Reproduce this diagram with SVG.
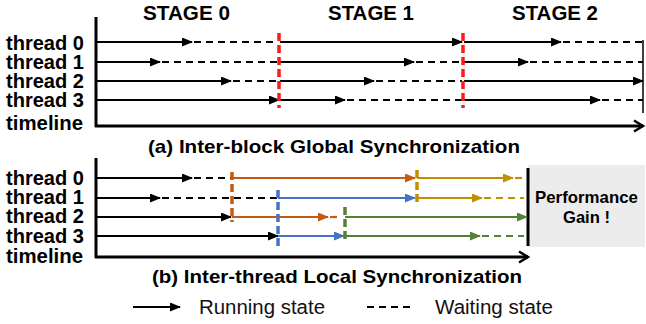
<svg xmlns="http://www.w3.org/2000/svg" width="646" height="324" viewBox="0 0 646 324">
<style>
.lb{font-family:"Liberation Sans",Arial,sans-serif;font-weight:bold;font-size:20px;fill:#000}
.cap{font-family:"Liberation Sans",Arial,sans-serif;font-weight:bold;font-size:19px;fill:#000}
.lg{font-family:"Liberation Sans",Arial,sans-serif;font-size:20px;fill:#111}
.s{stroke-width:2.2;fill:none}
.d{stroke-width:2.2;fill:none;stroke-dasharray:7,5}
.k{stroke:#000}
.o{stroke:#c55a11}
.b{stroke:#4472c4}
.g{stroke:#bf9000}
.n{stroke:#548235}
.sync{stroke-width:3.5;fill:none;stroke-dasharray:8,4}
.ax{stroke:#000;stroke-width:3;fill:none}
</style>
<defs>
<marker id="ak" markerUnits="userSpaceOnUse" markerWidth="11" markerHeight="9" refX="10" refY="4.5" orient="auto"><path d="M0,0 L11,4.5 L0,9 z" fill="#000"/></marker>
<marker id="ao" markerUnits="userSpaceOnUse" markerWidth="11" markerHeight="9" refX="10" refY="4.5" orient="auto"><path d="M0,0 L11,4.5 L0,9 z" fill="#c55a11"/></marker>
<marker id="ab" markerUnits="userSpaceOnUse" markerWidth="11" markerHeight="9" refX="10" refY="4.5" orient="auto"><path d="M0,0 L11,4.5 L0,9 z" fill="#4472c4"/></marker>
<marker id="ag" markerUnits="userSpaceOnUse" markerWidth="11" markerHeight="9" refX="10" refY="4.5" orient="auto"><path d="M0,0 L11,4.5 L0,9 z" fill="#bf9000"/></marker>
<marker id="an" markerUnits="userSpaceOnUse" markerWidth="11" markerHeight="9" refX="10" refY="4.5" orient="auto"><path d="M0,0 L11,4.5 L0,9 z" fill="#548235"/></marker>
<marker id="chev" markerUnits="userSpaceOnUse" markerWidth="14" markerHeight="14" refX="11" refY="7" orient="auto"><path d="M2,1.5 L11,7 L2,12.5" fill="none" stroke="#000" stroke-width="2.5"/></marker>
</defs>

<!-- (a) labels -->
<g id="labels-a">
<text class="lb" x="143" y="19.5" textLength="87" lengthAdjust="spacingAndGlyphs">STAGE 0</text>
<text class="lb" x="328" y="19.5" textLength="86" lengthAdjust="spacingAndGlyphs">STAGE 1</text>
<text class="lb" x="512" y="19.5" textLength="86" lengthAdjust="spacingAndGlyphs">STAGE 2</text>
<text class="lb" x="6" y="49.5" textLength="78" lengthAdjust="spacingAndGlyphs">thread 0</text>
<text class="lb" x="6" y="68.5" textLength="78" lengthAdjust="spacingAndGlyphs">thread 1</text>
<text class="lb" x="6" y="87.5" textLength="78" lengthAdjust="spacingAndGlyphs">thread 2</text>
<text class="lb" x="6" y="106.5" textLength="78" lengthAdjust="spacingAndGlyphs">thread 3</text>
<text class="lb" x="6" y="130" textLength="77" lengthAdjust="spacingAndGlyphs">timeline</text>
<text class="cap" x="148" y="152.5" textLength="372" lengthAdjust="spacingAndGlyphs">(a) Inter-block Global Synchronization</text>
</g>

<!-- (a) connectors -->
<g id="connectors-a">
<path class="ax" d="M96,17 V127"/>
<path class="ax" d="M95,126 H643" marker-end="url(#chev)"/>
<path d="M643,40 V113" stroke="#000" stroke-width="1.5"/>
<!-- thread 0 -->
<path class="s k" d="M96,42 H192" marker-end="url(#ak)"/>
<path class="d k" d="M194,42 H278"/>
<path class="s k" d="M280,42 H462" marker-end="url(#ak)"/>
<path class="s k" d="M464,42 H561" marker-end="url(#ak)"/>
<path class="d k" d="M563,42 H643"/>
<!-- thread 1 -->
<path class="s k" d="M96,62 H160" marker-end="url(#ak)"/>
<path class="d k" d="M162,62 H278"/>
<path class="s k" d="M280,62 H414" marker-end="url(#ak)"/>
<path class="d k" d="M416,62 H462"/>
<path class="s k" d="M464,62 H528" marker-end="url(#ak)"/>
<path class="d k" d="M530,62 H643"/>
<!-- thread 2 -->
<path class="s k" d="M96,81 H231" marker-end="url(#ak)"/>
<path class="d k" d="M233,81 H278"/>
<path class="s k" d="M280,81 H374" marker-end="url(#ak)"/>
<path class="d k" d="M376,81 H462"/>
<path class="s k" d="M464,81 H643" marker-end="url(#ak)"/>
<!-- thread 3 -->
<path class="s k" d="M96,100 H279" marker-end="url(#ak)"/>
<path class="s k" d="M280,100 H345" marker-end="url(#ak)"/>
<path class="d k" d="M347,100 H462"/>
<path class="s k" d="M464,100 H600" marker-end="url(#ak)"/>
<path class="d k" d="M602,100 H643"/>
<!-- barriers -->
<path class="sync" stroke="#ff1a1a" d="M279,33 V108"/>
<path class="sync" stroke="#ff1a1a" d="M463,33 V108"/>
</g>

<!-- (b) labels -->
<g id="labels-b">
<text class="lb" x="6" y="185" textLength="78" lengthAdjust="spacingAndGlyphs">thread 0</text>
<text class="lb" x="6" y="204" textLength="78" lengthAdjust="spacingAndGlyphs">thread 1</text>
<text class="lb" x="6" y="223" textLength="78" lengthAdjust="spacingAndGlyphs">thread 2</text>
<text class="lb" x="6" y="242.5" textLength="78" lengthAdjust="spacingAndGlyphs">thread 3</text>
<text class="lb" x="6" y="263" textLength="77" lengthAdjust="spacingAndGlyphs">timeline</text>
<text class="cap" x="152" y="283" textLength="370" lengthAdjust="spacingAndGlyphs">(b) Inter-thread Local Synchronization</text>
</g>

<g id="gain">
<rect x="528" y="165" width="117" height="82" fill="#ececec"/>
<text class="lb" style="font-size:16.5px" x="535" y="203" textLength="103" lengthAdjust="spacingAndGlyphs">Performance</text>
<text class="lb" style="font-size:16.5px" x="563" y="223" textLength="47" lengthAdjust="spacingAndGlyphs">Gain !</text>
</g>

<!-- (b) connectors -->
<g id="connectors-b">
<path class="ax" d="M96,158 V258"/>
<path class="ax" d="M95,257 H528" marker-end="url(#chev)"/>
<path d="M528,168 V246" stroke="#000" stroke-width="3"/>
<!-- thread 0 -->
<path class="s k" d="M96,178 H192" marker-end="url(#ak)"/>
<path class="d k" d="M194,178 H231"/>
<path class="s o" d="M232,178 H415" marker-end="url(#ao)"/>
<path class="s g" d="M417,178 H513" marker-end="url(#ag)"/>
<path class="d g" d="M515,178 H524"/>
<!-- thread 1 -->
<path class="s k" d="M96,198 H160" marker-end="url(#ak)"/>
<path class="d k" d="M162,198 H277"/>
<path class="s b" d="M278,198 H415" marker-end="url(#ab)"/>
<path class="s g" d="M417,198 H482" marker-end="url(#ag)"/>
<path class="d g" d="M484,198 H524"/>
<!-- thread 2 -->
<path class="s k" d="M96,217 H231" marker-end="url(#ak)"/>
<path class="s o" d="M232,217 H328" marker-end="url(#ao)"/>
<path class="d o" d="M330,217 H340"/>
<path class="s n" d="M345,217 H527" marker-end="url(#an)"/>
<!-- thread 3 -->
<path class="s k" d="M96,236 H278" marker-end="url(#ak)"/>
<path class="s b" d="M278,236 H344" marker-end="url(#ab)"/>
<path class="s n" d="M345,236 H480" marker-end="url(#an)"/>
<path class="d n" d="M482,236 H524"/>
<!-- local barriers -->
<path class="sync o" d="M232,172 V222"/>
<path class="sync b" d="M278,190 V246"/>
<path class="sync n" d="M345,207 V243"/>
<path class="sync g" d="M417,170 V204"/>
</g>

<!-- legend -->
<g id="legend">
<path class="s k" d="M133,307 H180" marker-end="url(#ak)"/>
<text class="lg" x="199" y="314" textLength="126" lengthAdjust="spacingAndGlyphs">Running state</text>
<path class="d k" d="M367,307 H410"/>
<text class="lg" x="435" y="314" textLength="118" lengthAdjust="spacingAndGlyphs">Waiting state</text>
</g>
</svg>
